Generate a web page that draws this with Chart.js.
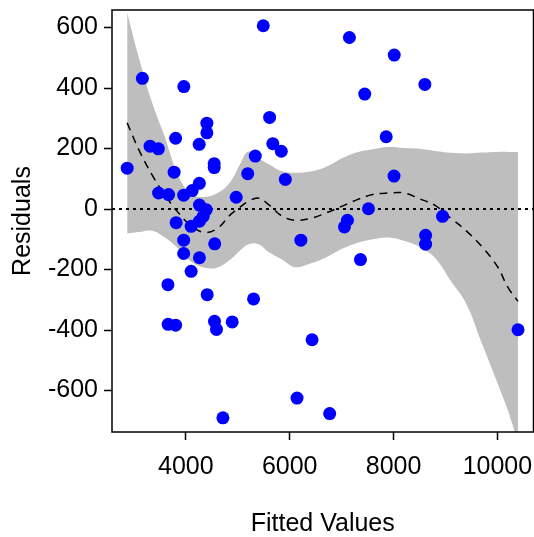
<!DOCTYPE html>
<html>
<head>
<meta charset="utf-8">
<script src="https://cdn.jsdelivr.net/npm/chart.js@4/dist/chart.umd.min.js"></script>
<style>
    html, body { margin: 0; padding: 0; background: #fff; overflow: hidden; }
    /* a bit wider than the window: Chart.js keeps ~6px spare right of the plot */
    #wrap { width: 540px; height: 537px; position: relative; }
</style>
</head>
<body>
<div id="wrap"><canvas id="resid-chart"></canvas></div>
<script>
// fitted values (x) and residuals (y) of the points
const fittedX = [2870, 3163, 3311, 3471, 3803, 3961, 4257, 4405, 4405, 4546, 4546, 3774, 3475, 3668, 3958, 4122,
    4260, 4970, 5491, 5613, 5675, 5838, 5337, 5192, 5916, 7150, 8013, 8603, 7445, 7858, 8009, 7517, 7112, 7054,
    8944, 8617, 8617, 6215, 7363, 6431, 6770, 6141, 10397, 4262, 4392, 3813, 4102, 4262, 4334, 3958, 4556, 3958,
    4262, 4102, 3655, 4411, 5304, 3659, 3803, 4552, 4590, 4893, 4714];
const residualY = [135, 432, 208, 199, 234, 405, 214, 284, 252, 150, 137, 122, 53, 48, 46, 61,
    85, 39, 606, 303, 216, 191, 175, 117, 98, 567, 509, 412, 380, 239, 109, 1, -37, -59,
    -24, -87, -116, -103, -167, -432, -676, -625, -399, 13, -2, -45, -57, -40, -24, -103, -115, -147,
    -161, -206, -250, -283, -297, -381, -384, -371, -398, -373, -690];

// smoother and its confidence band
const fitX = [2870, 3100, 3350, 3600, 3850, 4100, 4350, 4600, 4850, 5050, 5200, 5400, 5600, 5850, 6100,
    6400, 6700, 7000, 7300, 7600, 7900, 8200, 8500, 8800, 9100, 9400, 9700, 10000, 10200, 10397];
const fitY = [285, 194, 113, 45, -11, -55, -77, -65, -20, 7, 25, 36, 14, -23, -37,
    -31, -13, 9, 31, 48, 53, 53, 34, 12, -30, -72, -124, -190, -258, -305];
const fitUpper = [649, 497, 352, 236, 112, 50, 40, 52, 88, 150, 190, 168, 148, 125, 120,
    124, 140, 167, 188, 198, 205, 202, 199, 192, 186, 184, 187, 189, 189, 189];
const fitLower = [-81, -76, -72, -95, -130, -173, -193, -194, -168, -136, -117, -116, -143, -167, -192,
    -180, -160, -132, -112, -100, -94, -105, -125, -162, -237, -313, -444, -575, -665, -770];

// axes
const xMin = 2578, xMax = 10695;
const yMin = -737, yMax = 658;
const xTicks = [4000, 6000, 8000, 10000];
const yTicks = [-600, -400, -200, 0, 200, 400, 600];

document.addEventListener('DOMContentLoaded', function() {
    Chart.defaults.font.family = 'Arial, "Liberation Sans", sans-serif';
    Chart.defaults.color = '#000';

    function toPoints(xs, ys) {
        return xs.map((x, i) => ({ x: x, y: ys[i] }));
    }

    // black box around the plot area
    const framePlugin = {
        id: 'frame',
        afterDatasetsDraw(chart) {
            const { ctx, chartArea } = chart;
            ctx.save();
            ctx.strokeStyle = '#000';
            ctx.lineWidth = 1.5;
            ctx.strokeRect(chartArea.left, chartArea.top,
                chartArea.right - chartArea.left, chartArea.bottom - chartArea.top);
            ctx.restore();
        }
    };

    const tickGrid = {
        display: true,
        drawOnChartArea: false,
        drawTicks: true,
        tickLength: 8,
        tickColor: '#000',
        tickWidth: 1.5
    };

    const ctx = document.getElementById('resid-chart').getContext('2d');
    new Chart(ctx, {
        type: 'scatter',
        data: {
            datasets: [
                {
                    label: 'Residuals',
                    data: toPoints(fittedX, residualY),
                    backgroundColor: '#0000FF',
                    borderWidth: 0,
                    pointRadius: 6.5,
                    order: 0
                },
                {
                    label: 'zero',
                    type: 'line',
                    data: [{ x: xMin, y: 0 }, { x: xMax, y: 0 }],
                    borderColor: '#000',
                    borderWidth: 2,
                    borderDash: [3, 4],
                    pointRadius: 0,
                    fill: false,
                    order: 1
                },
                {
                    label: 'fit',
                    type: 'line',
                    data: toPoints(fitX, fitY),
                    borderColor: '#000',
                    borderWidth: 1.5,
                    borderDash: [8, 6],
                    pointRadius: 0,
                    tension: 0.4,
                    fill: false,
                    order: 2
                },
                {
                    label: 'upper',
                    type: 'line',
                    data: toPoints(fitX, fitUpper),
                    borderWidth: 0,
                    borderColor: 'rgba(0,0,0,0)',
                    backgroundColor: '#BEBEBE',
                    pointRadius: 0,
                    tension: 0.4,
                    fill: '+1',
                    order: 3
                },
                {
                    label: 'lower',
                    type: 'line',
                    data: toPoints(fitX, fitLower),
                    borderWidth: 0,
                    borderColor: 'rgba(0,0,0,0)',
                    pointRadius: 0,
                    tension: 0.4,
                    fill: false,
                    order: 4
                }
            ]
        },
        options: {
            responsive: true,
            maintainAspectRatio: false,
            animation: false,
            layout: { padding: { top: 10, right: 1, left: 0, bottom: 0 } },
            plugins: {
                legend: { display: false },
                tooltip: { enabled: false }
            },
            scales: {
                x: {
                    type: 'linear',
                    min: xMin,
                    max: xMax,
                    afterBuildTicks: (scale) => { scale.ticks = xTicks.map(v => ({ value: v })); },
                    afterFit: (scale) => {
                        // fixed axis height, no extra room for the end labels
                        scale.height = 105;
                        scale.paddingLeft = 0;
                        scale.paddingRight = 0;
                    },
                    grid: tickGrid,
                    border: { display: false },
                    ticks: {
                        font: { size: 25, lineHeight: 1 },
                        padding: 15,
                        maxRotation: 0,
                        callback: (v) => String(v)
                    },
                    title: {
                        display: true,
                        text: 'Fitted Values',
                        font: { size: 25, lineHeight: 1 },
                        padding: { top: 0, bottom: 0 }
                    }
                },
                y: {
                    type: 'linear',
                    min: yMin,
                    max: yMax,
                    afterBuildTicks: (scale) => { scale.ticks = yTicks.map(v => ({ value: v })); },
                    afterFit: (scale) => {
                        scale.width = 112;
                        scale.paddingTop = 0;
                        scale.paddingBottom = 0;
                    },
                    grid: tickGrid,
                    border: { display: false },
                    ticks: {
                        font: { size: 25, lineHeight: 1 },
                        padding: 6,
                        callback: (v) => String(v)
                    },
                    title: {
                        display: true,
                        text: 'Residuals',
                        font: { size: 25, lineHeight: 1 },
                        padding: { top: 11, bottom: 0 }
                    }
                }
            }
        },
        plugins: [framePlugin]
    });
});
</script>
</body>
</html>
